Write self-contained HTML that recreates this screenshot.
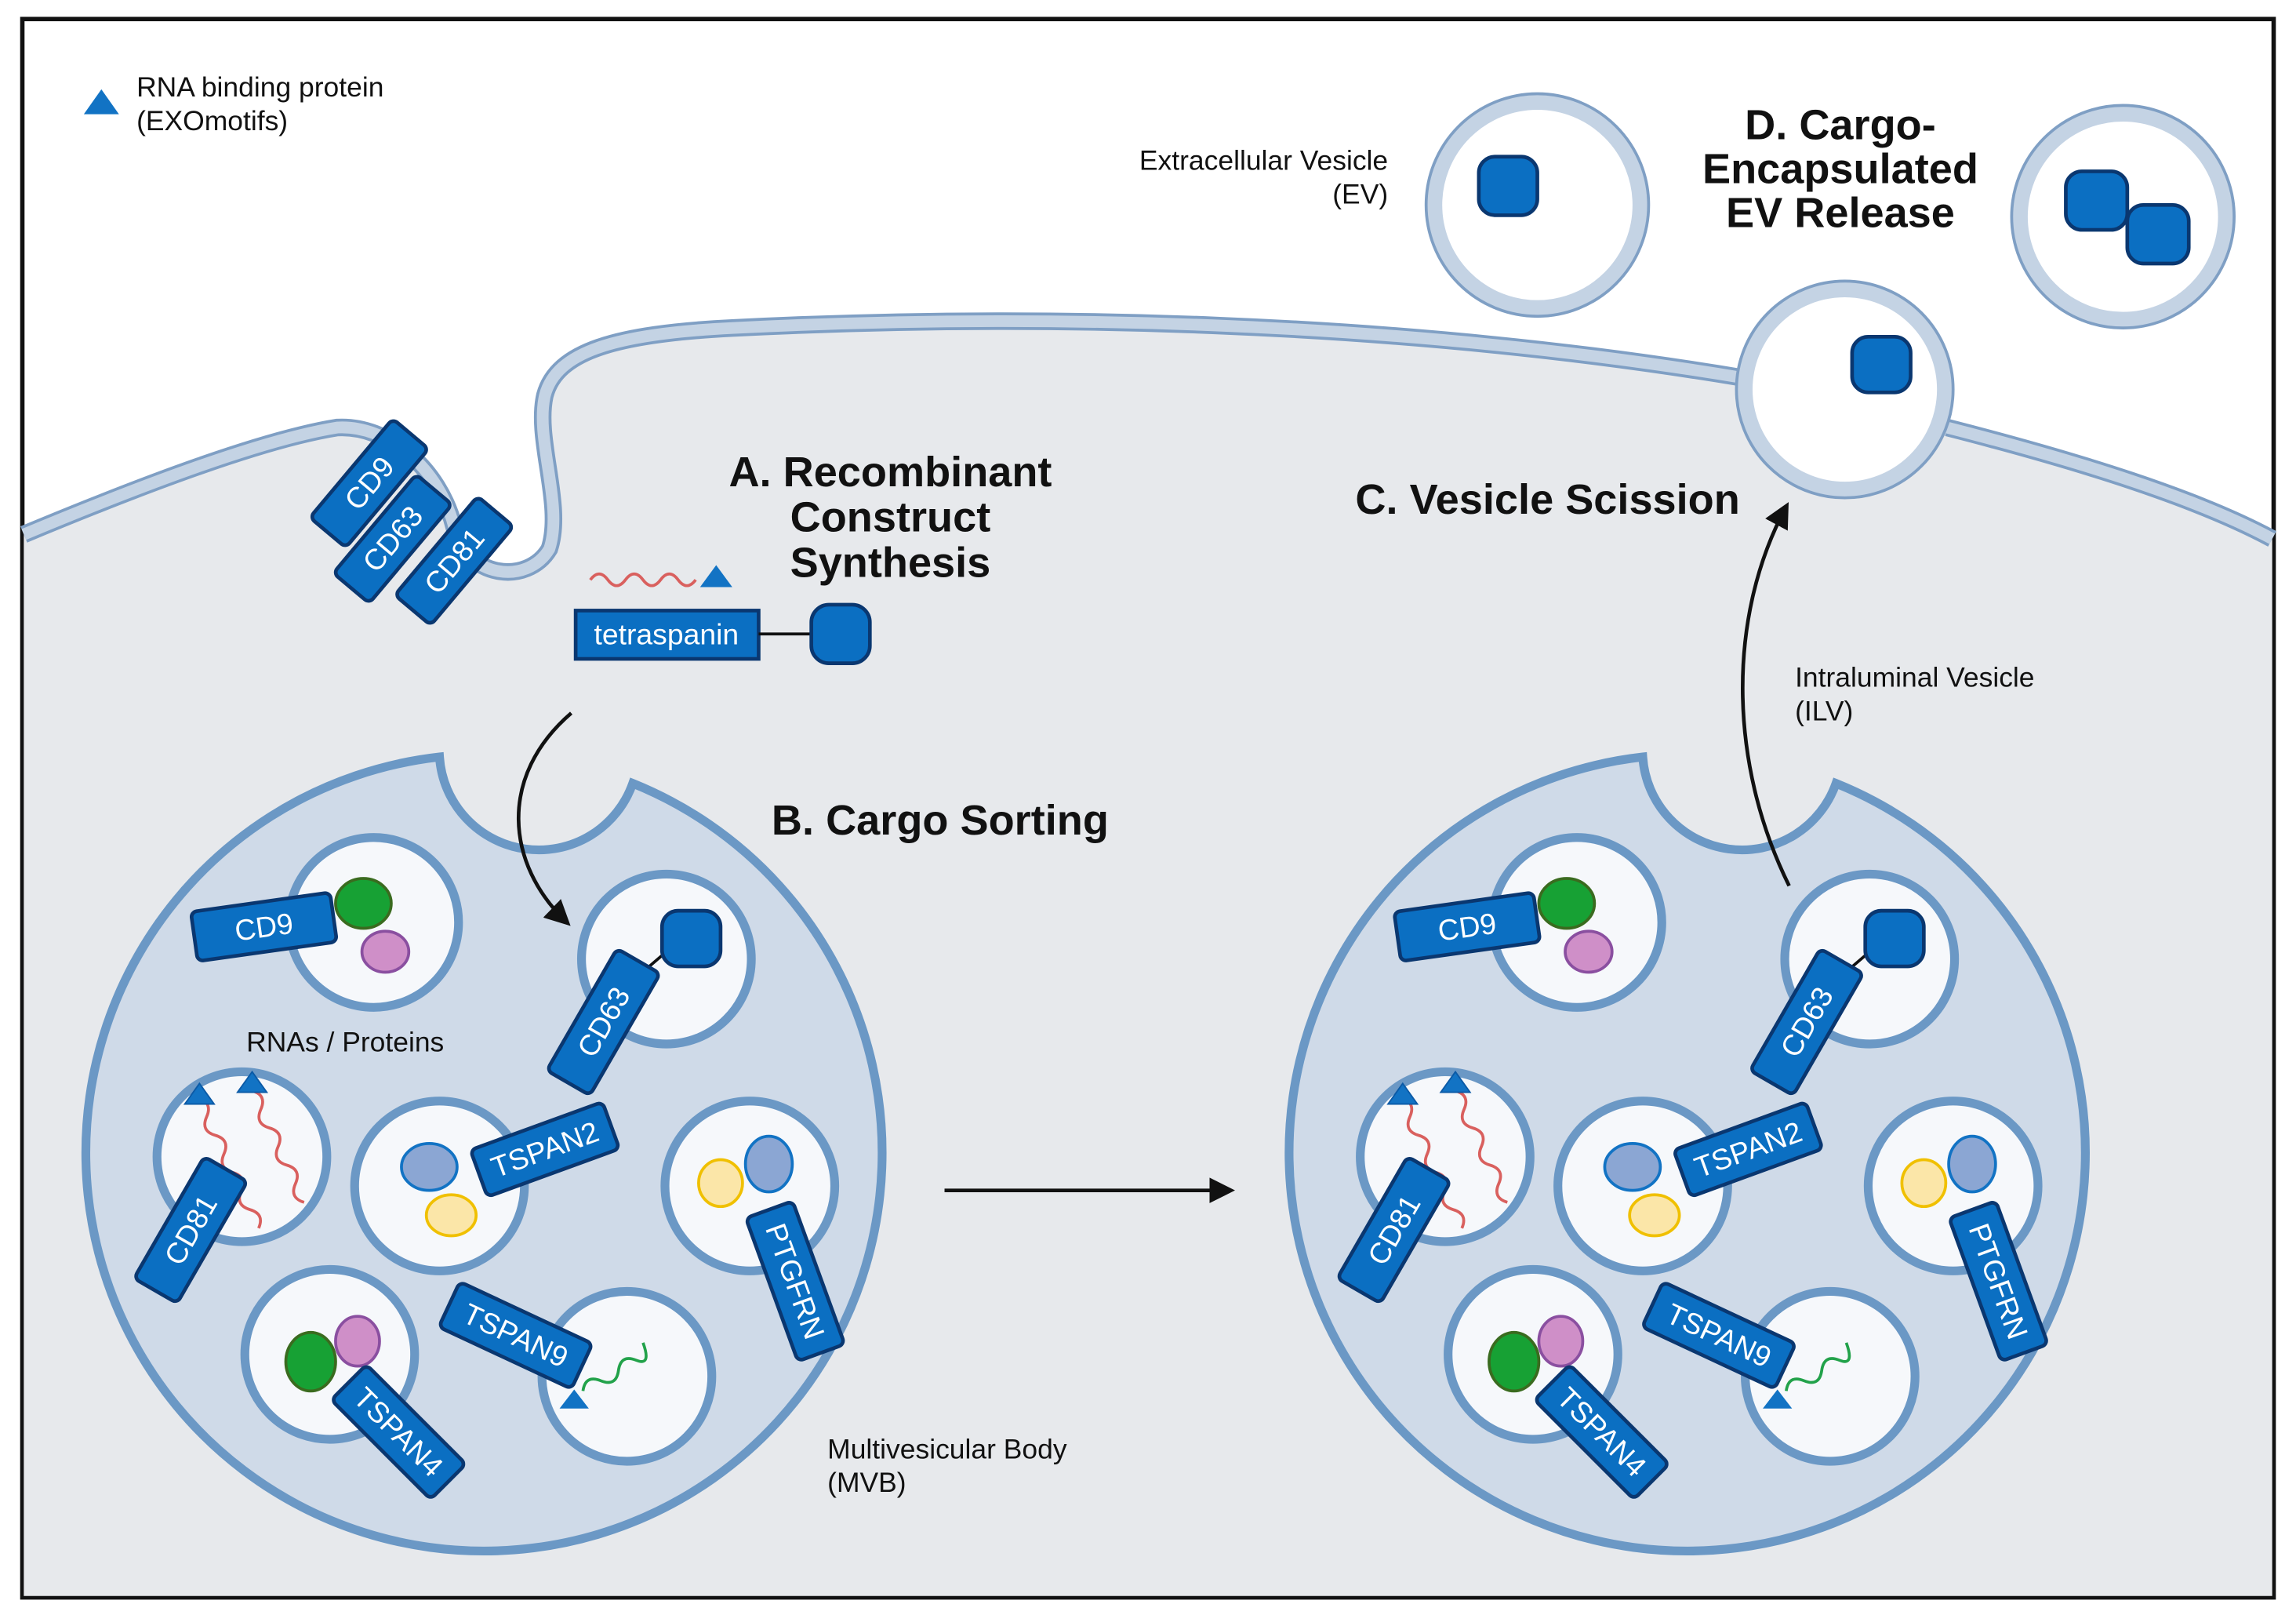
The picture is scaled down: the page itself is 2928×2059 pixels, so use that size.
<!DOCTYPE html>
<html><head><meta charset="utf-8"><style>
html,body{margin:0;padding:0;background:#fff;}
svg{display:block;}
text{font-family:"Liberation Sans",Arial,sans-serif;}
.lbl{fill:#fff;font-size:20px;text-anchor:middle;dominant-baseline:central;}
.box{fill:#0b6fc2;stroke:#0a3770;stroke-width:2.5;}
.ves{fill:#f6f8fb;stroke:#6b98c5;stroke-width:6;}
.h{font-size:29px;font-weight:bold;fill:#111;text-anchor:middle;}
.t{font-size:19px;fill:#111;}
</style></head><body>
<svg width="2928" height="2059" viewBox="0 0 1568 1103" xmlns="http://www.w3.org/2000/svg">
<defs>
<marker id="ah" viewBox="0 0 10 10" refX="8" refY="5" markerWidth="7" markerHeight="7" orient="auto"><path d="M0,0 L10,5 L0,10 z" fill="#111"/></marker>
<g id="mvb">
<path d="M300,517 A272 272 0 1 0 432,535 A68 68 0 0 1 300,517 Z" fill="#cfdae8" stroke="#6b98c5" stroke-width="6"/>
<circle class="ves" cx="255" cy="630" r="58"/>
<ellipse cx="248" cy="617" rx="19" ry="17" fill="#17a134" stroke="#3a6b1f" stroke-width="2"/>
<ellipse cx="263" cy="650" rx="16" ry="14" fill="#cf8fc8" stroke="#8a4fa0" stroke-width="2"/>
<g transform="translate(180,633) rotate(-8)"><rect class="box" x="-48" y="-17" width="96" height="34" rx="4"/><text class="lbl">CD9</text></g>
<circle class="ves" cx="455" cy="655" r="58"/>
<path d="M420,680 L455,650 L468,640" stroke="#111" stroke-width="2" fill="none"/>
<rect x="452" y="622" width="40" height="38" rx="11" class="box"/>
<g transform="translate(412,698) rotate(-60)"><rect class="box" x="-48" y="-17" width="96" height="34" rx="4"/><text class="lbl">CD63</text></g>
<circle class="ves" cx="165" cy="790" r="58"/>
<path d="M135,750 q8,7 0,14 t0,14 t0,14 t0,14 t0,14 t0,14 t0,14" transform="rotate(-25 135 750)" stroke="#d9605e" stroke-width="2" fill="none"/>
<path d="M172,745 q8,7 0,14 t0,14 t0,14 t0,14 t0,14 t0,14" transform="rotate(-25 172 745)" stroke="#d9605e" stroke-width="2" fill="none"/>
<path d="M126,754 l10,-14 l10,14z M162,746 l10,-14 l10,14z" fill="#1273c4" stroke="#0b5aa6"/>
<g transform="translate(130,840) rotate(-60)"><rect class="box" x="-48" y="-17" width="96" height="34" rx="4"/><text class="lbl">CD81</text></g>
<circle class="ves" cx="300" cy="810" r="58"/>
<ellipse cx="293" cy="797" rx="19" ry="16" fill="#8ba6d3" stroke="#1273c4" stroke-width="2"/>
<ellipse cx="308" cy="830" rx="17" ry="14" fill="#fbe6a8" stroke="#f0c000" stroke-width="2"/>
<g transform="translate(372,785) rotate(-20)"><rect class="box" x="-48" y="-17" width="96" height="34" rx="4"/><text class="lbl">TSPAN2</text></g>
<circle class="ves" cx="512" cy="810" r="58"/>
<ellipse cx="492" cy="808" rx="15" ry="16" fill="#fbe6a8" stroke="#f0c000" stroke-width="2"/>
<ellipse cx="525" cy="795" rx="16" ry="19" fill="#8ba6d3" stroke="#1273c4" stroke-width="2"/>
<g transform="translate(543,875) rotate(70)"><rect class="box" x="-52" y="-17" width="104" height="34" rx="4"/><text class="lbl">PTGFRN</text></g>
<circle class="ves" cx="225" cy="925" r="58"/>
<ellipse cx="212" cy="930" rx="17" ry="20" fill="#17a134" stroke="#3a6b1f" stroke-width="2"/>
<ellipse cx="244" cy="916" rx="15" ry="17" fill="#cf8fc8" stroke="#8a4fa0" stroke-width="2"/>
<g transform="translate(272,978) rotate(45)"><rect class="box" x="-48" y="-17" width="96" height="34" rx="4"/><text class="lbl">TSPAN4</text></g>
<circle class="ves" cx="428" cy="940" r="58"/>
<path d="M398,950 q7,-9 14,0 t14,0 t14,0 t10,-8" transform="rotate(-30 398 950)" stroke="#22a24a" stroke-width="2" fill="none"/>
<path d="M382,962 l10,-13 l10,13z" fill="#1273c4"/>
<g transform="translate(352,912) rotate(25)"><rect class="box" x="-50" y="-17" width="100" height="34" rx="4"/><text class="lbl">TSPAN9</text></g>
</g>
</defs>
<rect x="0" y="0" width="1568" height="1103" fill="#fff"/>
<rect x="15" y="13" width="1538" height="1078" fill="#fff" stroke="#111" stroke-width="3"/>
<path d="M16,365 C100,330 180,300 230,292 C265,290 300,320 310,360 C318,395 360,400 375,375 C385,345 365,300 372,270 C380,240 420,228 500,224 C700,214 950,218 1190,258 L1330,292 C1420,315 1500,340 1552,368 L1552,1090 L16,1090 Z" fill="#e7e9ec"/>
<path d="M16,365 C100,330 180,300 230,292 C265,290 300,320 310,360 C318,395 360,400 375,375 C385,345 365,300 372,270 C380,240 420,228 500,224 C700,214 950,218 1190,258 M1330,292 C1420,315 1500,340 1552,368" fill="none" stroke="#7f9fc4" stroke-width="12"/>
<path d="M16,365 C100,330 180,300 230,292 C265,290 300,320 310,360 C318,395 360,400 375,375 C385,345 365,300 372,270 C380,240 420,228 500,224 C700,214 950,218 1190,258 M1330,292 C1420,315 1500,340 1552,368" fill="none" stroke="#c4d3e4" stroke-width="8"/>
<g>
<circle cx="1050" cy="140" r="70" fill="#fff" stroke="#7f9fc4" stroke-width="14"/><circle cx="1050" cy="140" r="70" fill="#fff" stroke="#c4d3e4" stroke-width="10"/>
<rect x="1010" y="107" width="40" height="40" rx="11" class="box"/>
<circle cx="1450" cy="148" r="70" fill="#fff" stroke="#7f9fc4" stroke-width="14"/><circle cx="1450" cy="148" r="70" fill="#fff" stroke="#c4d3e4" stroke-width="10"/>
<rect x="1411" y="117" width="42" height="40" rx="11" class="box"/>
<rect x="1453" y="140" width="42" height="40" rx="11" class="box"/>
<circle cx="1260" cy="266" r="68" fill="#fff" stroke="#7f9fc4" stroke-width="14"/><circle cx="1260" cy="266" r="68" fill="#fff" stroke="#c4d3e4" stroke-width="10"/>
<rect x="1265" y="230" width="40" height="38" rx="11" class="box"/>
</g>
<g transform="translate(252,330) rotate(-50)"><rect class="box" x="-44" y="-16" width="88" height="32" rx="4"/><text class="lbl">CD9</text></g>
<g transform="translate(268,368) rotate(-50)"><rect class="box" x="-44" y="-16" width="88" height="32" rx="4"/><text class="lbl">CD63</text></g>
<g transform="translate(310,383) rotate(-50)"><rect class="box" x="-44" y="-16" width="88" height="32" rx="4"/><text class="lbl">CD81</text></g>
<path d="M403,396 q6,-8 12,0 t12,0 t12,0 t12,0 t12,0 t12,0" stroke="#d9605e" stroke-width="2" fill="none"/>
<path d="M478,401 l11,-15 l11,15z" fill="#1273c4"/>
<rect x="393" y="417" width="125" height="33" class="box"/>
<text class="lbl" x="455" y="433">tetraspanin</text>
<line x1="518" y1="433" x2="555" y2="433" stroke="#111" stroke-width="2"/>
<rect x="554" y="413" width="40" height="40" rx="12" class="box"/>
<path d="M57,78 l12,-17 l12,17z" fill="#1273c4"/>
<text class="t" x="93" y="66">RNA binding protein</text>
<text class="t" x="93" y="89">(EXOmotifs)</text>
<use href="#mvb"/>
<use href="#mvb" transform="translate(822,0)"/>
<text class="t" x="168" y="718">RNAs / Proteins</text>
<text class="t" x="565" y="996">Multivesicular Body</text>
<text class="t" x="565" y="1019">(MVB)</text>
<text class="t" x="1226" y="469">Intraluminal Vesicle</text>
<text class="t" x="1226" y="492">(ILV)</text>
<text class="t" x="948" y="116" text-anchor="end">Extracellular Vesicle</text>
<text class="t" x="948" y="139" text-anchor="end">(EV)</text>
<text class="h" x="608" y="332">A. Recombinant</text>
<text class="h" x="608" y="363">Construct</text>
<text class="h" x="608" y="394">Synthesis</text>
<text class="h" x="642" y="570">B. Cargo Sorting</text>
<text class="h" x="1057" y="351">C. Vesicle Scission</text>
<text class="h" x="1257" y="95">D. Cargo-</text>
<text class="h" x="1257" y="125">Encapsulated</text>
<text class="h" x="1257" y="155">EV Release</text>
<path d="M390,487 C340,530 345,590 387,630" fill="none" stroke="#111" stroke-width="2.5" marker-end="url(#ah)"/>
<line x1="645" y1="813" x2="840" y2="813" stroke="#111" stroke-width="2.5" marker-end="url(#ah)"/>
<path d="M1222,605 C1180,520 1180,420 1220,346" fill="none" stroke="#111" stroke-width="2.5" marker-end="url(#ah)"/>
</svg>
</body></html>
